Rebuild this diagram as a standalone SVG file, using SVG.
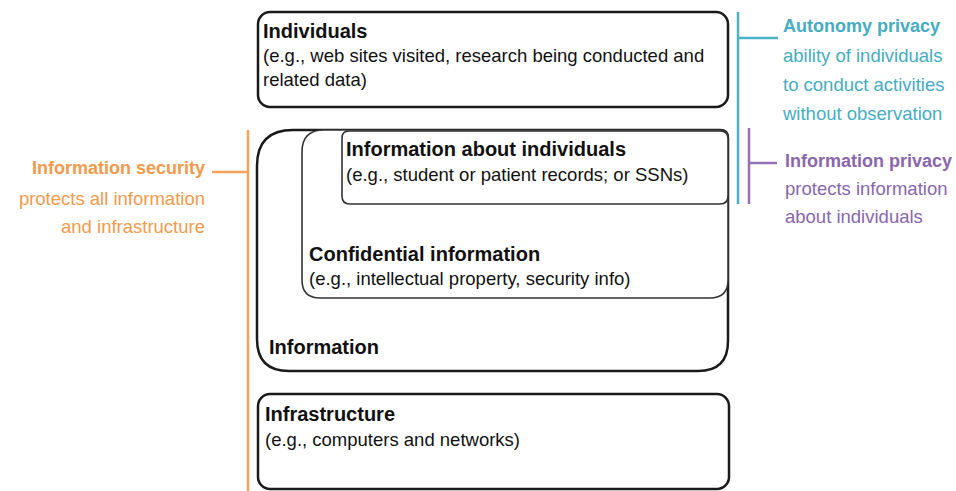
<svg xmlns="http://www.w3.org/2000/svg" width="956" height="491" viewBox="0 0 956 491">
<style>
  text { font-family: "Liberation Sans", Arial, sans-serif; }
  .title { font-size: 20px; font-weight: bold; fill: #111; }
  .body { font-size: 18.5px; fill: #111; }
  .box { fill: #fff; stroke: #1a1a1a; stroke-width: 2.5; }
  .inner { fill: #fff; stroke: #333; stroke-width: 1.6; }
  .teal { stroke: #4bb3c6; stroke-width: 2.5; fill: none; }
  .purple { stroke: #9271b5; stroke-width: 2.5; fill: none; }
  .orange { stroke: #f5a35c; stroke-width: 2.5; fill: none; }
  .tealtxt { fill: #45adc2; }
  .purpletxt { fill: #8a66ad; }
  .orangetxt { fill: #f39a4c; }
  .stitle { font-size: 18px; font-weight: bold; }
  .sbody { font-size: 18.5px; }
</style>

<g id="connectors">
  <path class="teal" d="M738,12 V204 M738,38 H778"/>
  <path class="purple" d="M749,128 V204 M749,163 H777"/>
  <path class="orange" d="M248,130 V491 M212,172 H248"/>
</g>

<g id="individuals">
  <rect class="box" x="258" y="12" width="470" height="95" rx="12" ry="12"/>
  <text class="title" x="263" y="38">Individuals</text>
  <text class="body" x="263" y="62">(e.g., web sites visited, research being conducted and</text>
  <text class="body" x="263" y="86">related data)</text>
</g>

<g id="information">
  <path class="box" d="M293,130 H720 Q728,130 728,138 V341 Q728,371 698,371 H289 Q257,371 257,339 V166 Q257,130 293,130 Z"/>
  <text class="title" x="269" y="354">Information</text>
</g>

<g id="confidential">
  <path class="inner" d="M324,130 H720 Q728,130 728,138 V280 Q728,298 710,298 H320 Q302,298 302,280 V152 Q302,130 324,130 Z"/>
  <text class="title" x="309" y="261">Confidential information</text>
  <text class="body" x="309" y="285">(e.g., intellectual property, security info)</text>
</g>

<g id="info-about-individuals">
  <path class="inner" d="M349,131 H720 Q728,131 728,139 V196 Q728,204 720,204 H350 Q342,204 342,196 V138 Q342,131 349,131 Z"/>
  <text class="title" x="346" y="156">Information about individuals</text>
  <text class="body" x="346" y="181">(e.g., student or patient records; or SSNs)</text>
</g>

<g id="infrastructure">
  <rect class="box" x="258" y="394" width="471" height="95" rx="12" ry="12"/>
  <text class="title" x="265" y="421">Infrastructure</text>
  <text class="body" x="265" y="446">(e.g., computers and networks)</text>
</g>

<g id="autonomy-privacy" class="tealtxt">
  <text class="stitle" x="783" y="32">Autonomy privacy</text>
  <text class="sbody" x="783" y="62">ability of individuals</text>
  <text class="sbody" x="783" y="91">to conduct activities</text>
  <text class="sbody" x="783" y="120">without observation</text>
</g>

<g id="information-privacy" class="purpletxt">
  <text class="stitle" x="785" y="167">Information privacy</text>
  <text class="sbody" x="785" y="195">protects information</text>
  <text class="sbody" x="785" y="223">about individuals</text>
</g>

<g id="information-security" class="orangetxt" text-anchor="end">
  <text class="stitle" x="205" y="174">Information security</text>
  <text class="sbody" x="205" y="205">protects all information</text>
  <text class="sbody" x="205" y="233">and infrastructure</text>
</g>
</svg>
